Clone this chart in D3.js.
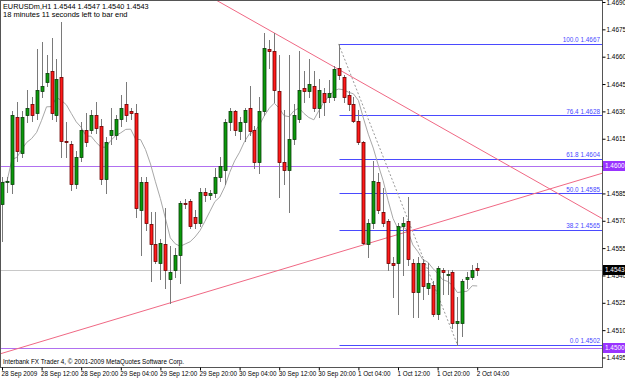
<!DOCTYPE html>
<html><head><meta charset="utf-8">
<script src="https://cdn.jsdelivr.net/npm/d3@7"></script>
<style>
html,body{margin:0;padding:0;background:#fff;}
svg{display:block;font-family:"Liberation Sans",Arial,sans-serif;}
</style></head><body>
<svg id="c" width="625" height="378"></svg>
<script>
// ---------------- data ----------------
const symbol = "EURUSDm,H1";
const lastQuote = ["1.4544", "1.4547", "1.4540", "1.4543"];
const timerText = "18 minutes 11 seconds left to bar end";
const copyright = "Interbank FX Trader 4, \u00A9 2001-2009 MetaQuotes Software Corp.";

const timeLabels = ["28 Sep 2009", "28 Sep 12:00", "28 Sep 20:00", "29 Sep 04:00", "29 Sep 12:00",
  "29 Sep 20:00", "30 Sep 04:00", "30 Sep 12:00", "30 Sep 20:00", "1 Oct 04:00",
  "1 Oct 12:00", "1 Oct 20:00", "2 Oct 04:00"];
const timeLabelBars = [0, 8, 16, 24, 32, 40, 48, 56, 64, 72, 80, 88, 96];
const priceTicks = [1.4690, 1.4675, 1.4660, 1.4645, 1.4630, 1.4615, 1.4600, 1.4585, 1.4570,
  1.4555, 1.4540, 1.4525, 1.4510, 1.4495];

const open = [
  1.4579, 1.4591, 1.4590, 1.4627, 1.4607, 1.4628, 1.4634, 1.4629, 1.4641, 1.4646,
  1.4652, 1.4628, 1.4649, 1.4614, 1.4612, 1.4590, 1.4605, 1.4620, 1.4620, 1.4628,
  1.4622, 1.4593, 1.4617, 1.4617, 1.4626, 1.4634, 1.4630, 1.4629, 1.4576, 1.4591,
  1.4568, 1.4557, 1.4547, 1.4557, 1.4538, 1.4543, 1.4551, 1.4580, 1.4581, 1.4572,
  1.4569, 1.4586, 1.4584, 1.4585, 1.4594, 1.4598, 1.4624, 1.4630, 1.4619, 1.4624,
  1.4632, 1.4620, 1.4602, 1.4630, 1.4664, 1.4663, 1.4641, 1.4602, 1.4598, 1.4615,
  1.4626, 1.4643, 1.4641, 1.4644, 1.4632, 1.4640, 1.4638, 1.4638, 1.4654, 1.4649,
  1.4639, 1.4634, 1.4625, 1.4613, 1.4557, 1.4569, 1.4591, 1.4575, 1.4570, 1.4547,
  1.4547, 1.4567, 1.4570, 1.4547, 1.4531, 1.4547, 1.4533, 1.4535, 1.4519, 1.4543,
  1.4541, 1.4542, 1.4514, 1.4514, 1.4538, 1.4539, 1.4544];
const high = [
  1.4594, 1.4594, 1.4630, 1.4635, 1.4630, 1.4642, 1.4638, 1.4664, 1.4668, 1.4661,
  1.4670, 1.4659, 1.4679, 1.4624, 1.4614, 1.4608, 1.4624, 1.4629, 1.4631, 1.4635,
  1.4626, 1.4616, 1.4632, 1.4628, 1.4639, 1.4646, 1.4632, 1.4634, 1.4594, 1.4594,
  1.4575, 1.4575, 1.4560, 1.4577, 1.4556, 1.4555, 1.4581, 1.4582, 1.4582, 1.4576,
  1.4588, 1.4588, 1.4587, 1.4599, 1.4605, 1.4626, 1.4632, 1.4631, 1.4627, 1.4632,
  1.4644, 1.4622, 1.4638, 1.4673, 1.4669, 1.4673, 1.4661, 1.4631, 1.4661, 1.4634,
  1.4663, 1.4652, 1.4659, 1.4652, 1.4648, 1.4643, 1.4647, 1.4655, 1.4667, 1.4650,
  1.4641, 1.4638, 1.4631, 1.4614, 1.4571, 1.4603, 1.4596, 1.4588, 1.4571, 1.4550,
  1.4569, 1.4572, 1.4583, 1.4549, 1.4550, 1.4549, 1.4547, 1.4537, 1.4545, 1.4544,
  1.4543, 1.4543, 1.4528, 1.4538, 1.4542, 1.4546, 1.4547];
const low = [
  1.4559, 1.4586, 1.4585, 1.4603, 1.4605, 1.4624, 1.4625, 1.4626, 1.4638, 1.4644,
  1.4626, 1.4625, 1.4605, 1.4605, 1.4587, 1.4588, 1.4603, 1.4611, 1.4618, 1.4618,
  1.4590, 1.4585, 1.4612, 1.4615, 1.4622, 1.4625, 1.4626, 1.4572, 1.4551, 1.4565,
  1.4537, 1.4547, 1.4538, 1.4533, 1.4525, 1.4539, 1.4536, 1.4577, 1.4566, 1.4566,
  1.4567, 1.4581, 1.4582, 1.4583, 1.4592, 1.4590, 1.4620, 1.4617, 1.4615, 1.4614,
  1.4617, 1.4599, 1.4596, 1.4628, 1.4654, 1.4635, 1.4583, 1.4590, 1.4575, 1.4612,
  1.4624, 1.4635, 1.4638, 1.4630, 1.4627, 1.4628, 1.4635, 1.4636, 1.4648, 1.4635,
  1.4631, 1.4624, 1.4612, 1.4557, 1.4550, 1.4566, 1.4574, 1.4567, 1.4543, 1.4528,
  1.4519, 1.4540, 1.4546, 1.4517, 1.4517, 1.4527, 1.4530, 1.4518, 1.4516, 1.4530,
  1.4530, 1.4511, 1.4502, 1.4507, 1.4533, 1.4538, 1.4540];
const close = [
  1.4591, 1.4592, 1.4628, 1.4608, 1.4627, 1.4632, 1.4628, 1.4642, 1.4644, 1.4651,
  1.4629, 1.4648, 1.4614, 1.4613, 1.4590, 1.4605, 1.4620, 1.4613, 1.4628, 1.4621,
  1.4593, 1.4613, 1.4620, 1.4626, 1.4632, 1.4628, 1.4629, 1.4577, 1.4591, 1.4569,
  1.4557, 1.4548, 1.4558, 1.4543, 1.4542, 1.4551, 1.4580, 1.4579, 1.4567, 1.4569,
  1.4586, 1.4584, 1.4585, 1.4594, 1.4600, 1.4624, 1.4630, 1.4620, 1.4624, 1.4631,
  1.4619, 1.4602, 1.4630, 1.4665, 1.4663, 1.4642, 1.4602, 1.4598, 1.4615, 1.4628,
  1.4642, 1.4641, 1.4645, 1.4632, 1.4642, 1.4635, 1.4640, 1.4653, 1.4650, 1.4638,
  1.4634, 1.4625, 1.4613, 1.4558, 1.4569, 1.4592, 1.4576, 1.4569, 1.4547, 1.4546,
  1.4567, 1.4569, 1.4549, 1.4531, 1.4547, 1.4534, 1.4536, 1.4519, 1.4544, 1.4542,
  1.4541, 1.4514, 1.4515, 1.4537, 1.4539, 1.4543, 1.4543];

const maPeriod = 8;
const fibLevels = ["100.0", "76.4", "61.8", "50.0", "38.2", "0.0"];
const fibPrices = [1.4667, 1.4628, 1.4604, 1.4585, 1.4565, 1.4502];
const fibAnchorBars = [68, 92];
const purpleLines = [1.4600, 1.4500];
const currentPrice = 1.4543;
const trendDown = [[55, 1.4673], [96, 1.4610]];
const trendUp = [[34, 1.4525], [96, 1.45755]];

// ---------------- layout ----------------
const W = 625, H = 378, PR = 602, PB = 367;
const svg = d3.select("#c");
const bars = d3.range(open.length);
const x = d3.scaleLinear().domain([0, 96]).range([2, 477.2]);
const y = d3.scaleLinear().domain([1.4495, 1.4690]).range([357.5, 2]);
const px = v => Math.round(v) + 0.5;

svg.append("rect").attr("width", W).attr("height", H).attr("fill", "#fff");
svg.append("defs").append("clipPath").attr("id", "pc")
  .append("rect").attr("x", 1).attr("y", 1).attr("width", PR - 1).attr("height", PB - 1);
const plot = svg.append("g").attr("clip-path", "url(#pc)");

// current price line
plot.append("line").attr("x1", 0).attr("x2", PR)
  .attr("y1", px(y(currentPrice))).attr("y2", px(y(currentPrice)))
  .attr("stroke", "#c8c8c8").attr("stroke-width", 1);

// purple horizontal lines
plot.selectAll(".hl").data(purpleLines).join("line")
  .attr("x1", 0).attr("x2", PR)
  .attr("y1", d => px(y(d))).attr("y2", d => px(y(d)))
  .attr("stroke", "#b070f0").attr("stroke-width", 1);

// fibonacci levels
const fibX0 = px(x(fibAnchorBars[0]));
plot.selectAll(".fib").data(fibPrices).join("line")
  .attr("x1", fibX0).attr("x2", PR)
  .attr("y1", d => px(y(d))).attr("y2", d => px(y(d)))
  .attr("stroke", "#4a4aff").attr("stroke-width", 1.2);
plot.selectAll(".fibt").data(fibPrices).join("text")
  .attr("x", PR - 2).attr("y", d => y(d) - 1.5)
  .attr("text-anchor", "end").attr("font-size", 6.4).attr("fill", "#4a4aff")
  .text((d, i) => fibLevels[i] + "  " + d.toFixed(4));
plot.append("line")
  .attr("x1", x(fibAnchorBars[0])).attr("y1", y(fibPrices[0]))
  .attr("x2", x(fibAnchorBars[1])).attr("y2", y(fibPrices[5]))
  .attr("stroke", "#999").attr("stroke-width", 1).attr("stroke-dasharray", "2,2");

// trend lines (extended)
function trend(pts) {
  const s = (pts[1][1] - pts[0][1]) / (pts[1][0] - pts[0][0]);
  const b0 = x.invert(0), b1 = x.invert(PR);
  return [[0, y(pts[0][1] + s * (b0 - pts[0][0]))], [PR, y(pts[0][1] + s * (b1 - pts[0][0]))]];
}
[trendDown, trendUp].forEach(t => {
  const p = trend(t);
  plot.append("line").attr("x1", p[0][0]).attr("y1", p[0][1]).attr("x2", p[1][0]).attr("y2", p[1][1])
    .attr("stroke", "#f06884").attr("stroke-width", 1);
});

// moving average
const ma = bars.map(i => d3.mean(close.slice(Math.max(0, i - maPeriod + 1), i + 1)));
plot.append("path").datum(bars)
  .attr("d", d3.line().x(i => x(i)).y(i => y(ma[i])).curve(d3.curveLinear))
  .attr("fill", "none").attr("stroke", "#a8a8a8").attr("stroke-width", 1);

// candles
const cg = plot.append("g");
bars.forEach(i => {
  const cx = px(x(i));
  cg.append("line").attr("x1", cx).attr("x2", cx)
    .attr("y1", Math.round(y(high[i]))).attr("y2", Math.round(y(low[i])) + 1)
    .attr("stroke", "#7a7a7a").attr("stroke-width", 1);
  const up = close[i] >= open[i];
  const top = Math.round(y(Math.max(open[i], close[i])));
  const bot = Math.round(y(Math.min(open[i], close[i])));
  cg.append("rect").attr("x", cx - 1.5).attr("y", top + 0.5)
    .attr("width", 3).attr("height", Math.max(1, bot - top))
    .attr("fill", up ? "#0a9a0a" : "#ff1a1a")
    .attr("stroke", up ? "#0b3d0b" : "#6a0000").attr("stroke-width", 0.8);
});

// frame
svg.append("rect").attr("x", 0.5).attr("y", 0.5).attr("width", PR).attr("height", PB)
  .attr("fill", "none").attr("stroke", "#555").attr("stroke-width", 1);

// right axis
const ra = svg.append("g").attr("transform", `translate(${PR + 0.5},0)`)
  .call(d3.axisRight(y).tickValues(priceTicks).tickSize(3).tickPadding(1).tickFormat(d3.format(".4f")));
ra.select(".domain").remove();
ra.selectAll("text").attr("font-size", 6.4).attr("fill", "#000").attr("font-family", "Liberation Sans, Arial, sans-serif");
ra.selectAll("line").attr("stroke", "#000");

// bottom axis
const ba = svg.append("g").attr("transform", `translate(0,${PB + 0.5})`)
  .call(d3.axisBottom(x).tickValues(timeLabelBars).tickSize(3).tickPadding(1)
    .tickFormat((d, i) => timeLabels[i]));
ba.select(".domain").remove();
ba.selectAll("text").attr("font-size", 6.3).attr("fill", "#000").attr("text-anchor", "start")
  .attr("dx", -1).attr("font-family", "Liberation Sans, Arial, sans-serif");
ba.selectAll("line").attr("stroke", "#000");

// price boxes on right axis
function box(p, fill) {
  const yy = Math.round(y(p));
  svg.append("rect").attr("x", PR + 1).attr("y", yy - 5).attr("width", 22).attr("height", 10).attr("fill", fill);
  svg.append("text").attr("x", PR + 3).attr("y", yy + 2.3).attr("font-size", 6.4)
    .attr("fill", "#fff").text(p.toFixed(4));
}
purpleLines.forEach(p => box(p, "#9933ff"));
box(currentPrice, "#000");

// header / footer text
svg.append("text").attr("x", 3).attr("y", 8.5).attr("font-size", 7.3).attr("fill", "#000")
  .text(symbol + "  " + lastQuote.join(" "));
svg.append("text").attr("x", 3).attr("y", 16.5).attr("font-size", 7.5).attr("fill", "#000")
  .text(timerText);
svg.append("text").attr("x", 3).attr("y", 364).attr("font-size", 6.3).attr("fill", "#000")
  .text(copyright);
</script>
</body></html>
